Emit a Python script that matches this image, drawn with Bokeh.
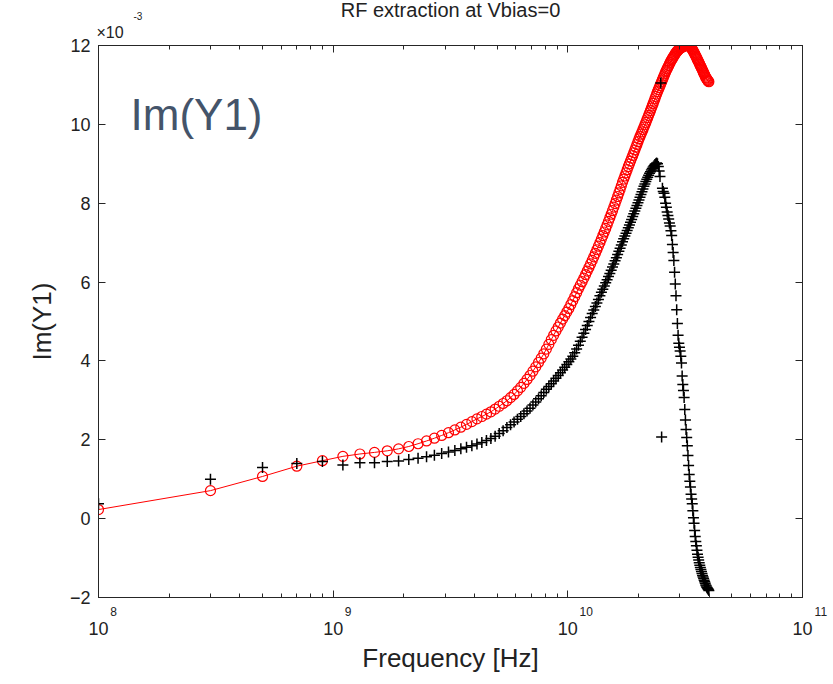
from bokeh.plotting import figure
from bokeh.models import (ColumnDataSource, Range1d, LogAxis, LinearAxis, FixedTicker,
                          CustomJSTickFormatter, Label, Title)
from bokeh.embed import file_html
from bokeh.resources import INLINE

# ---------------- data (values of Im(Y1) in units of 1e-3 S) ----------------
freq_ghz = [
    0.1, 0.3, 0.5, 0.7, 0.9, 1.1, 1.3, 1.5, 1.7, 1.9,
    2.1, 2.3, 2.5, 2.7, 2.9, 3.1, 3.3, 3.5, 3.7, 3.9,
    4.1, 4.3, 4.5, 4.7, 4.9, 5.1, 5.3, 5.5, 5.7, 5.9,
    6.1, 6.3, 6.5, 6.7, 6.9, 7.1, 7.3, 7.5, 7.7, 7.9,
    8.1, 8.3, 8.5, 8.7, 8.9, 9.1, 9.3, 9.5, 9.7, 9.9,
    10.1, 10.3, 10.5, 10.7, 10.9, 11.1, 11.3, 11.5, 11.7, 11.9,
    12.1, 12.3, 12.5, 12.7, 12.9, 13.1, 13.3, 13.5, 13.7, 13.9,
    14.1, 14.3, 14.5, 14.7, 14.9, 15.1, 15.3, 15.5, 15.7, 15.9,
    16.1, 16.3, 16.5, 16.7, 16.9, 17.1, 17.3, 17.5, 17.7, 17.9,
    18.1, 18.3, 18.5, 18.7, 18.9, 19.1, 19.3, 19.5, 19.7, 19.9,
    20.1, 20.3, 20.5, 20.7, 20.9, 21.1, 21.3, 21.5, 21.7, 21.9,
    22.1, 22.3, 22.5, 22.7, 22.9, 23.1, 23.3, 23.5, 23.7, 23.9,
    24.1, 24.3, 24.5, 24.7, 24.9, 25.1, 25.3, 25.5, 25.7, 25.9,
    26.1, 26.3, 26.5, 26.7, 26.9, 27.1, 27.3, 27.5, 27.7, 27.9,
    28.1, 28.3, 28.5, 28.7, 28.9, 29.1, 29.3, 29.5, 29.7, 29.9,
    30.1, 30.3, 30.5, 30.7, 30.9, 31.1, 31.3, 31.5, 31.7, 31.9,
    32.1, 32.3, 32.5, 32.7, 32.9, 33.1, 33.3, 33.5, 33.7, 33.9,
    34.1, 34.3, 34.5, 34.7, 34.9, 35.1, 35.3, 35.5, 35.7, 35.9,
    36.1, 36.3, 36.5, 36.7, 36.9, 37.1, 37.3, 37.5, 37.7, 37.9,
    38.1, 38.3, 38.5, 38.7, 38.9, 39.1, 39.3, 39.5, 39.7, 39.9,
]

# red circles + line (model)
im_y1_model = [
    0.23, 0.71, 1.07, 1.33, 1.47, 1.58, 1.64, 1.68, 1.72, 1.77,
    1.83, 1.90, 1.97, 2.04, 2.11, 2.18, 2.25, 2.32, 2.39, 2.46,
    2.53, 2.59, 2.65, 2.71, 2.78, 2.85, 2.92, 2.99, 3.07, 3.15,
    3.24, 3.33, 3.43, 3.53, 3.63, 3.74, 3.85, 3.96, 4.07, 4.18,
    4.30, 4.42, 4.54, 4.65, 4.76, 4.86, 4.96, 5.06, 5.15, 5.24,
    5.33, 5.43, 5.53, 5.63, 5.73, 5.83, 5.92, 6.01, 6.10, 6.19,
    6.28, 6.37, 6.46, 6.55, 6.64, 6.73, 6.82, 6.91, 7.00, 7.09,
    7.18, 7.27, 7.36, 7.45, 7.54, 7.63, 7.72, 7.81, 7.90, 7.99,
    8.08, 8.17, 8.26, 8.35, 8.44, 8.53, 8.61, 8.69, 8.77, 8.85,
    8.93, 9.00, 9.07, 9.14, 9.21, 9.28, 9.35, 9.42, 9.49, 9.56,
    9.63, 9.69, 9.75, 9.81, 9.87, 9.93, 9.99, 10.05, 10.11, 10.17,
    10.23, 10.29, 10.35, 10.41, 10.47, 10.53, 10.59, 10.65, 10.71, 10.77,
    10.83, 10.88, 10.93, 10.98, 11.03, 11.08, 11.13, 11.18, 11.23, 11.28,
    11.33, 11.37, 11.41, 11.45, 11.49, 11.53, 11.57, 11.61, 11.64, 11.67,
    11.70, 11.73, 11.76, 11.79, 11.82, 11.84, 11.86, 11.88, 11.90, 11.92,
    11.93, 11.94, 11.95, 11.96, 11.97, 11.98, 11.99, 11.99, 12.00, 12.00,
    12.00, 12.00, 12.00, 11.99, 11.98, 11.97, 11.96, 11.94, 11.92, 11.90,
    11.88, 11.85, 11.82, 11.79, 11.76, 11.73, 11.70, 11.67, 11.64, 11.61,
    11.58, 11.55, 11.52, 11.49, 11.46, 11.43, 11.40, 11.37, 11.34, 11.31,
    11.28, 11.25, 11.22, 11.19, 11.17, 11.15, 11.13, 11.11, 11.09, 11.08,
]

# black crosses (measured)
im_y1_meas = [
    0.38, 1.00, 1.30, 1.40, 1.45, 1.36, 1.42, 1.42, 1.45, 1.46,
    1.50, 1.53, 1.57, 1.61, 1.65, 1.69, 1.73, 1.77, 1.81, 1.85,
    1.89, 1.93, 1.98, 2.03, 2.09, 2.16, 2.23, 2.31, 2.38, 2.45,
    2.52, 2.59, 2.66, 2.73, 2.80, 2.88, 2.96, 3.04, 3.12, 3.20,
    3.28, 3.35, 3.42, 3.49, 3.56, 3.63, 3.70, 3.77, 3.84, 3.91,
    3.98, 4.05, 4.12, 4.21, 4.30, 4.40, 4.50, 4.60, 4.70, 4.80,
    4.90, 5.00, 5.10, 5.20, 5.29, 5.38, 5.47, 5.56, 5.65, 5.74,
    5.82, 5.90, 5.98, 6.06, 6.14, 6.22, 6.30, 6.38, 6.46, 6.54,
    6.62, 6.70, 6.78, 6.86, 6.94, 7.02, 7.10, 7.17, 7.24, 7.31,
    7.38, 7.45, 7.52, 7.59, 7.66, 7.73, 7.80, 7.87, 7.94, 8.01,
    8.08, 8.15, 8.22, 8.29, 8.36, 8.43, 8.49, 8.55, 8.61, 8.66,
    8.71, 8.76, 8.80, 8.84, 8.88, 8.92, 8.95, 8.98, 9.00, 9.02,
    9.00, 8.93, 8.82, 8.68, 11.05, 2.07, 8.38, 8.30, 8.25, 8.15,
    8.00, 7.90, 7.78, 7.69, 7.60, 7.50, 7.42, 7.30, 7.18, 6.95,
    6.75, 6.55, 6.25, 5.95, 5.65, 5.30, 4.95, 4.65, 4.45, 4.35,
    4.25, 4.12, 3.95, 3.62, 3.40, 3.25, 3.07, 2.77, 2.50, 2.26,
    2.06, 1.85, 1.60, 1.35, 1.12, 0.95, 0.80, 0.62, 0.50, 0.38,
    0.20, 0.02, -0.12, -0.30, -0.45, -0.58, -0.69, -0.80, -0.90, -0.98,
    -1.05, -1.12, -1.18, -1.24, -1.29, -1.34, -1.39, -1.44, -1.48, -1.52,
    -1.56, -1.60, -1.64, -1.68, -1.71, -1.74, -1.76, -1.78, -1.80, -1.82,
]

x_ticks = [1e8, 1e9, 1e10, 1e11]
x_tick_base = "10"
x_tick_exponents = ["8", "9", "10", "11"]
y_ticks = [-2, 0, 2, 4, 6, 8, 10, 12]
y_min, y_max = -2, 12

title_text = "RF extraction at Vbias=0"
x_label = "Frequency [Hz]"
y_label = "Im(Y1)"
scale_text = "\u00d710"
scale_exp = "-3"
annotation_text = "Im(Y1)"

FONT = "Liberation Sans"
AXIS_COLOR = "#262626"
TEXT_COLOR = "#222222"

src = ColumnDataSource(dict(
    f=[v * 1e9 for v in freq_ghz],
    model=im_y1_model,
    meas=im_y1_meas,
))

p = figure(width=833, height=684, x_axis_type="log",
           x_range=Range1d(x_ticks[0], x_ticks[-1]), y_range=Range1d(y_min, y_max),
           x_axis_location=None, y_axis_location=None,
           output_backend="svg", toolbar_location=None,
           min_border_left=98, min_border_right=31, min_border_top=45, min_border_bottom=87)
p.title = None
p.grid.visible = False
p.outline_line_color = AXIS_COLOR
p.outline_line_width = 1
p.background_fill_color = "white"
p.border_fill_color = "white"

x_minor = [m * t for t in x_ticks[:-1] for m in range(2, 10)]


def style_axis(ax):
    ax.axis_line_color = AXIS_COLOR
    ax.major_tick_line_color = AXIS_COLOR
    ax.minor_tick_line_color = AXIS_COLOR
    ax.major_tick_in = 7
    ax.major_tick_out = 0
    ax.minor_tick_in = 4
    ax.minor_tick_out = 0
    ax.major_label_text_font = FONT
    ax.major_label_text_color = TEXT_COLOR
    ax.axis_label_text_font = FONT
    ax.axis_label_text_font_style = "normal"
    ax.axis_label_text_color = TEXT_COLOR


# bottom axis 1: ticks + exponents (to the upper right of each "10")
exp_fmt = CustomJSTickFormatter(args=dict(tick_vals=x_ticks, exps=x_tick_exponents), code="""
    let i = 0;
    for (let k = 0; k < tick_vals.length; k++) {
        if (Math.abs(Math.log10(tick_vals[k]) - Math.log10(tick)) < 1e-6) { i = k; }
    }
    const e = exps[i];
    const pad = e.length == 1 ? 9 : 11;
    return '\\u00a0'.repeat(pad) + e;
""")
xb1 = LogAxis(ticker=FixedTicker(ticks=x_ticks, minor_ticks=x_minor), formatter=exp_fmt)
style_axis(xb1)
xb1.major_label_text_font_size = "12px"
xb1.major_label_standoff = 7
p.add_layout(xb1, "below")

# bottom axis 2: "10" base labels + axis label
base_fmt = CustomJSTickFormatter(args=dict(base_txt=x_tick_base), code="return base_txt;")
xb2 = LogAxis(ticker=FixedTicker(ticks=x_ticks, minor_ticks=[]), formatter=base_fmt,
              axis_label=x_label)
style_axis(xb2)
xb2.axis_line_color = None
xb2.major_tick_line_color = None
xb2.minor_tick_line_color = None
xb2.major_label_text_font_size = "18px"
xb2.major_label_standoff = 0
xb2.axis_label_text_font_size = "26px"
xb2.axis_label_standoff = 5
p.add_layout(xb2, "below")

# top axis (ticks only)
xt = LogAxis(ticker=FixedTicker(ticks=x_ticks, minor_ticks=x_minor),
             formatter=CustomJSTickFormatter(code="return '';"))
style_axis(xt)
xt.major_label_standoff = 0
p.add_layout(xt, "above")

# left axis
yl = LinearAxis(ticker=FixedTicker(ticks=y_ticks), axis_label=y_label)
style_axis(yl)
yl.minor_tick_line_color = None
yl.major_label_text_font_size = "18px"
yl.major_label_standoff = 8
yl.axis_label_text_font_size = "26px"
yl.axis_label_standoff = 10
p.add_layout(yl, "left")

# right axis (ticks only)
yr = LinearAxis(ticker=FixedTicker(ticks=y_ticks),
                formatter=CustomJSTickFormatter(code="return '';"))
style_axis(yr)
yr.minor_tick_line_color = None
yr.major_label_standoff = 0
p.add_layout(yr, "right")

# titles in the top panel (closest to the frame first)
t_scale = Title(text=scale_text, align="left", offset=-2, standoff=10,
                text_font=FONT, text_font_size="16px", text_font_style="normal",
                text_color=TEXT_COLOR)
t_exp = Title(text=scale_exp, align="left", offset=35, standoff=-6,
              text_font=FONT, text_font_size="10px", text_font_style="normal",
              text_color=TEXT_COLOR)
t_main = Title(text=title_text, align="center", standoff=-18, vertical_align="middle",
               text_font=FONT, text_font_size="20px", text_font_style="normal",
               text_color=TEXT_COLOR)
p.add_layout(t_scale, "above")
p.add_layout(t_exp, "above")
p.add_layout(t_main, "above")

# data
p.line("f", "model", source=src, line_color="red", line_width=1)
p.scatter("f", "model", source=src, marker="circle", size=10,
          fill_color=None, line_color="red", line_width=1.2)
p.scatter("f", "meas", source=src, marker="cross", size=11,
          line_color="black", line_width=1.5)

# big annotation
p.add_layout(Label(x=x_ticks[0], y=y_max, text=annotation_text, x_offset=32, y_offset=-44,
                   text_baseline="top", text_align="left", text_font=FONT,
                   text_font_size="44px", text_color="#44546A"))

open("out.html", "w").write(file_html(p, INLINE))
